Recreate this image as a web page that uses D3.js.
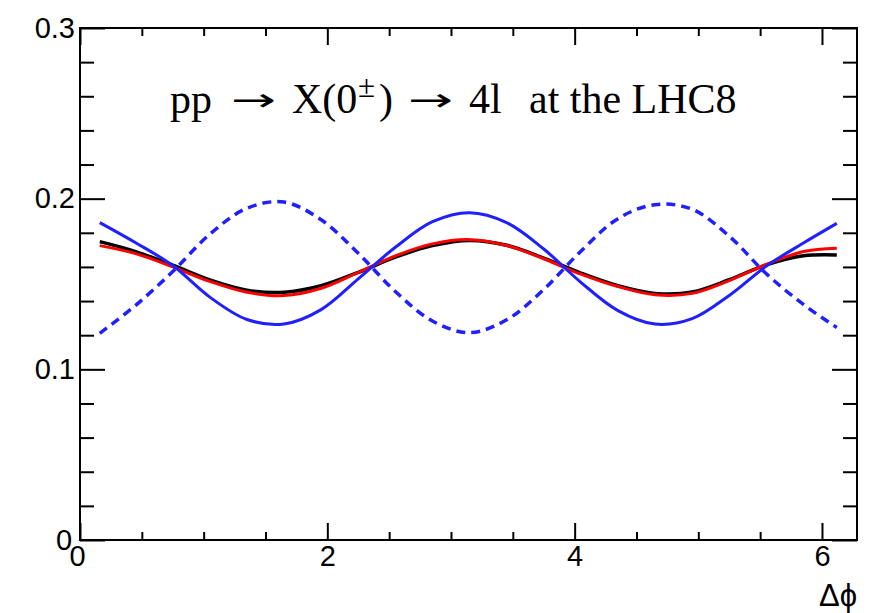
<!DOCTYPE html>
<html>

<head>
  <title>pp to X to 4l</title>

  <style>
    body,
    html {
      margin: 0;
      padding: 0;
      background: #fff;
    }

    .tick text {
      font-family: "Liberation Sans", Arial, sans-serif;
    }
  </style>
</head>

<body>

  <svg id="svg" width="870" height="613"></svg>

  <script src="https://d3js.org/d3.v7.min.js"></script>

  <script>
    // delta phi points where the curves are read
    const dphi = [0.16, 0.45, 0.75, 1.05, 1.35, 1.65, 1.95, 2.25, 2.55, 2.85, 3.15,
      3.45, 3.75, 4.05, 4.35, 4.65, 4.95, 5.25, 5.55, 5.85, 6.12]

    const black = [0.1748, 0.1690, 0.1610, 0.1524, 0.1464, 0.1452, 0.1490, 0.1568, 0.1657, 0.1725, 0.1755,
      0.1727, 0.1652, 0.1564, 0.1490, 0.1445, 0.1453, 0.1525, 0.1612, 0.1665, 0.1670]
    const red = [0.1725, 0.1678, 0.1600, 0.1515, 0.1452, 0.1432, 0.1475, 0.1568, 0.1665, 0.1735, 0.1760,
      0.1726, 0.1648, 0.1558, 0.1485, 0.1437, 0.1445, 0.1520, 0.1615, 0.1690, 0.1710]
    const blueSolid = [0.1860, 0.1742, 0.1608, 0.1423, 0.1292, 0.1266, 0.1350, 0.1530, 0.1715, 0.1865, 0.1918,
      0.1860, 0.1705, 0.1510, 0.1344, 0.1265, 0.1297, 0.1433, 0.1605, 0.1740, 0.1855]
    const blueDashed = [0.1211, 0.1375, 0.1573, 0.1792, 0.1944, 0.1980, 0.1876, 0.1680, 0.1456, 0.1283, 0.1215,
      0.1290, 0.1468, 0.1692, 0.1883, 0.1965, 0.1938, 0.1780, 0.1560, 0.1380, 0.1245]

    const xMajor = [0, 2, 4, 6]
    const xMinor = [0.5, 1, 1.5, 2.5, 3, 3.5, 4.5, 5, 5.5]
    const yMajor = [0, 0.1, 0.2, 0.3]
    const yMinor = [0.02, 0.04, 0.06, 0.08, 0.12, 0.14, 0.16, 0.18, 0.22, 0.24, 0.26, 0.28]

    const frameL = 80, frameR = 857, frameT = 28, frameB = 540

    const svg = d3.select("#svg")

    const xScale = d3.scaleLinear()
      .domain([0, 2 * Math.PI])
      .range([frameL, frameR])

    const yScale = d3.scaleLinear()
      .domain([0, 0.3])
      .range([frameB, frameT])

    const fmtY = d => d === 0 ? "0" : d3.format(".1f")(d)

    // frame ticks, all pointing inwards
    function styleAxis(g) {
      g.select(".domain").remove()
      g.selectAll(".tick line").attr("stroke", "#000").attr("stroke-width", 2)
      g.selectAll(".tick text").attr("fill", "#000").attr("font-size", 29)
    }

    svg.append("g")
      .attr("transform", `translate(0, ${frameB})`)
      .call(d3.axisBottom(xScale).tickValues(xMajor).tickSize(-17).tickPadding(5).tickFormat(d3.format("d")))
      .call(styleAxis)
    svg.append("g")
      .attr("transform", `translate(0, ${frameB})`)
      .call(d3.axisBottom(xScale).tickValues(xMinor).tickSize(-8).tickFormat(""))
      .call(styleAxis)
    svg.append("g")
      .attr("transform", `translate(0, ${frameT})`)
      .call(d3.axisTop(xScale).tickValues(xMajor).tickSize(-17).tickFormat(""))
      .call(styleAxis)
    svg.append("g")
      .attr("transform", `translate(0, ${frameT})`)
      .call(d3.axisTop(xScale).tickValues(xMinor).tickSize(-8).tickFormat(""))
      .call(styleAxis)

    svg.append("g")
      .attr("transform", `translate(${frameL}, 0)`)
      .call(d3.axisLeft(yScale).tickValues(yMajor).tickSize(-25).tickPadding(5).tickFormat(fmtY))
      .call(styleAxis)
    svg.append("g")
      .attr("transform", `translate(${frameL}, 0)`)
      .call(d3.axisLeft(yScale).tickValues(yMinor).tickSize(-14).tickFormat(""))
      .call(styleAxis)
    svg.append("g")
      .attr("transform", `translate(${frameR}, 0)`)
      .call(d3.axisRight(yScale).tickValues(yMajor).tickSize(-25).tickFormat(""))
      .call(styleAxis)
    svg.append("g")
      .attr("transform", `translate(${frameR}, 0)`)
      .call(d3.axisRight(yScale).tickValues(yMinor).tickSize(-14).tickFormat(""))
      .call(styleAxis)

    // "0" labels sit a little apart like in ROOT
    svg.selectAll(".tick text").filter(d => d === 0).attr("dx", "-0.1em")

    svg.append("rect")
      .attr("x", frameL).attr("y", frameT)
      .attr("width", frameR - frameL).attr("height", frameB - frameT)
      .attr("fill", "none").attr("stroke", "#000").attr("stroke-width", 2)

    const series = [
      { values: black, color: "#000000", width: 3.5, dash: null },
      { values: red, color: "#ff0000", width: 3, dash: null },
      { values: blueSolid, color: "#1f1fff", width: 3, dash: null },
      { values: blueDashed, color: "#1f1fff", width: 3.5, dash: "9,6" }
    ]

    const line = d3.line()
      .x(d => xScale(d[0]))
      .y(d => yScale(d[1]))
      .curve(d3.curveCatmullRom)

    series.forEach(s => {
      svg.append("path")
        .attr("d", line(dphi.map((p, i) => [p, s.values[i]])))
        .attr("fill", "none")
        .attr("stroke", s.color)
        .attr("stroke-width", s.width)
        .attr("stroke-dasharray", s.dash)
    })

    // title, set piece by piece like TLatex does
    const serif = "'Liberation Serif', 'Times New Roman', serif"
    const titleParts = [
      { x: 170, y: 113, size: 42, text: "pp" },
      { x: 231, y: 113, size: 32, text: "\u2192", len: 45 },
      { x: 292, y: 113, size: 42, text: "X(0" },
      { x: 358, y: 97, size: 31, text: "\u00b1" },
      { x: 379, y: 113, size: 42, text: ")" },
      { x: 408, y: 113, size: 32, text: "\u2192", len: 45 },
      { x: 469, y: 113, size: 42, text: "4l" },
      { x: 529, y: 113, size: 42, text: "at the LHC8" }
    ]
    titleParts.forEach(p => {
      const t = svg.append("text")
        .attr("font-family", p.len ? "'DejaVu Sans', sans-serif" : serif)
        .attr("font-size", p.size)
        .attr("fill", "#000")
        .text(p.text)
      if (p.len) {
        // stretch the arrow sideways, TLatex arrows are long
        const w = t.node().getComputedTextLength()
        t.attr("transform", `translate(${p.x}, ${p.y - 2}) scale(${p.len / w}, 1)`)
      } else {
        t.attr("x", p.x).attr("y", p.y)
      }
    })

    svg.append("text")
      .attr("x", frameR)
      .attr("y", 606)
      .attr("text-anchor", "end")
      .attr("font-family", "'Liberation Sans', Arial, sans-serif")
      .attr("font-size", 31)
      .attr("fill", "#000")
      .text("\u0394\u03d5")
  </script>

</body>

</html>
